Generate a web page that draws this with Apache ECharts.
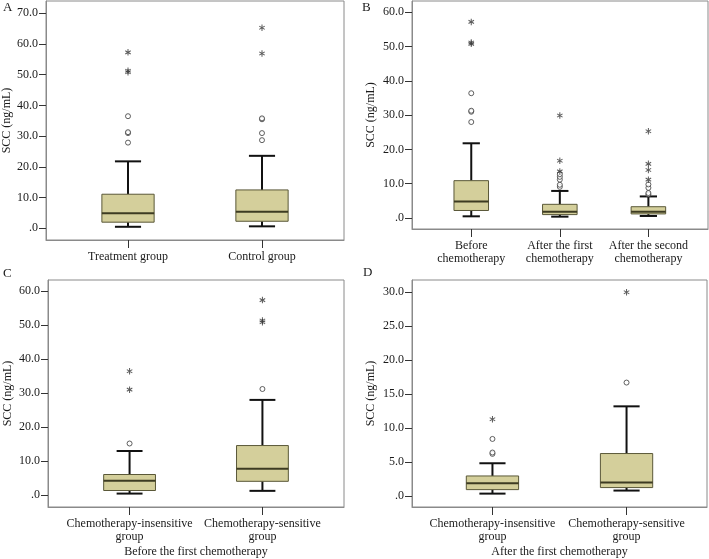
<!DOCTYPE html>
<html><head><meta charset="utf-8">
<script src="https://cdn.jsdelivr.net/npm/echarts@6/dist/echarts.min.js"></script>
<style>html,body{margin:0;padding:0;background:#fff}#c{width:709px;height:559px}</style>
</head><body><div id="c"></div>
<script>
// ---------- data ----------
const catsA = ['Treatment group', 'Control group'];
const boxA = [[0.5, 2.0, 4.9, 11.1, 21.8], [0.65, 2.3, 5.4, 12.5, 23.6]]; // low, q1, median, q3, high
const outA = [[1, 27.9], [1, 31.0], [1, 31.3], [1, 36.5], [2, 28.7], [2, 31.0], [2, 35.5], [2, 35.8]];
const extA = [[1, 50.8], [1, 51.3], [1, 57.3], [2, 56.9], [2, 65.3]];
const ticksA = [0, 10, 20, 30, 40, 50, 60, 70];

const catsB = ['Before\nchemotherapy', 'After the first\nchemotherapy', 'After the second\nchemotherapy'];
const boxB = [[0.5, 2.2, 4.8, 10.9, 21.8], [0.4, 1.0, 1.8, 4.0, 7.9], [0.6, 1.2, 1.8, 3.3, 6.3]];
const outB = [[1, 28.0], [1, 31.0], [1, 31.3], [1, 36.4], [2, 9.1], [2, 9.7], [2, 11.2], [2, 12.0], [2, 12.8],
              [3, 6.9], [3, 7.3], [3, 8.8], [3, 9.8]];
const extB = [[1, 50.8], [1, 51.2], [1, 57.2], [2, 13.6], [2, 16.7], [2, 29.9], [3, 11.2], [3, 14.0], [3, 15.8], [3, 25.3]];
const ticksB = [0, 10, 20, 30, 40, 50, 60];

const catsC = ['Chemotherapy-insensitive\ngroup', 'Chemotherapy-sensitive\ngroup'];
const boxC = [[0.5, 1.4, 4.3, 6.1, 13.0], [1.3, 4.1, 7.8, 14.6, 28.0]];
const outC = [[1, 15.2], [2, 31.2]];
const extC = [[1, 31.0], [1, 36.4], [2, 50.8], [2, 51.3], [2, 57.3]];
const ticksC = [0, 10, 20, 30, 40, 50, 60];
const nameC = 'Before the first chemotherapy';

const catsD = ['Chemotherapy-insensitive\ngroup', 'Chemotherapy-sensitive\ngroup'];
const boxD = [[0.35, 0.94, 1.87, 2.95, 4.82], [0.8, 1.24, 1.98, 6.25, 13.2]];
const outD = [[1, 6.2], [1, 6.4], [1, 8.4], [2, 16.7]];
const extD = [[1, 11.3], [2, 30.0]];
const ticksD = [0, 5, 10, 15, 20, 25, 30];
const nameD = 'After the first chemotherapy';

const yName = 'SCC (ng/mL)';
const letters = ['A', 'B', 'C', 'D'];

// ---------- layout / style ----------
const FONT = '"Liberation Serif", "Times New Roman", serif';
const TXT = '#1a1a1a';
const FRAME = '#8a8a8a';
const STAR = 'path://M-0.8,-5 L0.8,-5 L0.8,5 L-0.8,5 Z M3.93,3.193 L-4.73,-1.807 L-3.93,-3.193 L4.73,1.807 Z M-4.73,1.807 L3.93,-3.193 L4.73,-1.807 L-3.93,3.193 Z';

const panels = [
  {cats: catsA, box: boxA, out: outA, ext: extA, ticks: ticksA, grid: {left: 46, top: 1, width: 298, height: 239},
   xr: [0.388, 2.612], yr: [-3.8, 74.0], xname: '', nameGap: 28},
  {cats: catsB, box: boxB, out: outB, ext: extB, ticks: ticksB, grid: {left: 412, top: 1, width: 296, height: 228},
   xr: [0.331, 3.673], yr: [-3.2, 63.3], xname: '', nameGap: 35},
  {cats: catsC, box: boxC, out: outC, ext: extC, ticks: ticksC, grid: {left: 48, top: 280, width: 296, height: 227},
   xr: [0.386, 2.614], yr: [-3.44, 63.2], xname: nameC, nameGap: 34},
  {cats: catsD, box: boxD, out: outD, ext: extD, ticks: ticksD, grid: {left: 412, top: 280, width: 295, height: 227},
   xr: [0.4, 2.6], yr: [-1.62, 31.8], xname: nameD, nameGap: 35}
];

function fmtY(v) { return v === 0 ? '.0' : v.toFixed(1); }

function renderBox(params, api) {
  const x = api.value(0);
  const lo = api.value(1), q1 = api.value(2), md = api.value(3), q3 = api.value(4), hi = api.value(5);
  const hw = 0.195, cw = 0.0975;
  const tl = api.coord([x - hw, q3]);
  const br = api.coord([x + hw, q1]);
  const cLo = api.coord([x, lo]), cHi = api.coord([x, hi]);
  const cQ1 = api.coord([x, q1]), cQ3 = api.coord([x, q3]);
  const mL = api.coord([x - hw, md]), mR = api.coord([x + hw, md]);
  const capL = api.coord([x - cw, lo])[0], capR = api.coord([x + cw, lo])[0];
  const wStyle = {stroke: '#111', lineWidth: 2};
  return {
    type: 'group',
    children: [
      {type: 'line', shape: {x1: cLo[0], y1: cLo[1], x2: cQ1[0], y2: cQ1[1]}, style: wStyle},
      {type: 'line', shape: {x1: cQ3[0], y1: cQ3[1], x2: cHi[0], y2: cHi[1]}, style: wStyle},
      {type: 'line', shape: {x1: capL, y1: cLo[1], x2: capR, y2: cLo[1]}, style: wStyle},
      {type: 'line', shape: {x1: capL, y1: cHi[1], x2: capR, y2: cHi[1]}, style: wStyle},
      {type: 'rect', shape: {x: tl[0], y: tl[1], width: br[0] - tl[0], height: br[1] - tl[1]},
       style: {fill: '#d4cf9b', stroke: '#5a5838', lineWidth: 1}},
      {type: 'line', shape: {x1: mL[0], y1: mL[1], x2: mR[0], y2: mR[1]}, style: {stroke: '#3d3b22', lineWidth: 2}}
    ]
  };
}

const grids = [], xAxes = [], yAxes = [], series = [];
panels.forEach((p, i) => {
  grids.push(Object.assign({show: true, borderColor: FRAME, borderWidth: 1, backgroundColor: 'transparent'}, p.grid));
  const xv = p.cats.map((c, k) => k + 1);
  xAxes.push({
    type: 'value', gridIndex: i, min: p.xr[0], max: p.xr[1],
    name: p.xname, nameLocation: 'middle', nameGap: 39,
    nameTextStyle: {fontFamily: FONT, fontSize: 12, color: TXT},
    axisLine: {show: true, onZero: false, lineStyle: {color: FRAME, width: 1}},
    axisTick: {show: true, length: 8, customValues: xv, lineStyle: {color: '#333', width: 1}},
    axisLabel: {show: true, customValues: xv, margin: 10, fontFamily: FONT, fontSize: 12, color: TXT, lineHeight: 13,
      formatter: v => p.cats[Math.round(v) - 1] || ''},
    splitLine: {show: false}
  });
  yAxes.push({
    type: 'value', gridIndex: i, min: p.yr[0], max: p.yr[1],
    name: yName, nameLocation: 'middle', nameGap: p.nameGap,
    nameTextStyle: {fontFamily: FONT, fontSize: 12, color: TXT},
    axisLine: {show: true, onZero: false, lineStyle: {color: FRAME, width: 1}},
    axisTick: {show: true, length: 7, customValues: p.ticks, lineStyle: {color: '#333', width: 1}},
    axisLabel: {show: true, customValues: p.ticks, margin: 8, fontFamily: FONT, fontSize: 12, color: TXT, formatter: fmtY},
    splitLine: {show: false}
  });
  series.push({
    type: 'custom', xAxisIndex: i, yAxisIndex: i, renderItem: renderBox,
    encode: {x: 0, y: [1, 2, 3, 4, 5]},
    data: p.box.map((b, k) => [k + 1].concat(b)), z: 2
  });
  series.push({
    type: 'scatter', xAxisIndex: i, yAxisIndex: i, symbol: 'circle', symbolSize: 5,
    itemStyle: {color: '#fff', borderColor: '#3a3a3a', borderWidth: 1}, data: p.out, z: 3
  });
  series.push({
    type: 'scatter', xAxisIndex: i, yAxisIndex: i, symbol: STAR, symbolSize: [6, 6.5],
    itemStyle: {color: '#333'}, data: p.ext, z: 3
  });
});

const letterPos = [[3, 1], [362, 1], [3, 267], [363, 266]];
const graphic = letters.map((l, i) => ({
  type: 'text', left: letterPos[i][0], top: letterPos[i][1],
  style: {text: l, font: '13px ' + FONT, fill: TXT}
}));

const chart = echarts.init(document.getElementById('c'), null, {renderer: 'canvas'});
chart.setOption({
  animation: false,
  backgroundColor: '#fff',
  grid: grids, xAxis: xAxes, yAxis: yAxes, series: series, graphic: graphic,
  tooltip: {show: false}
});
</script></body></html>
